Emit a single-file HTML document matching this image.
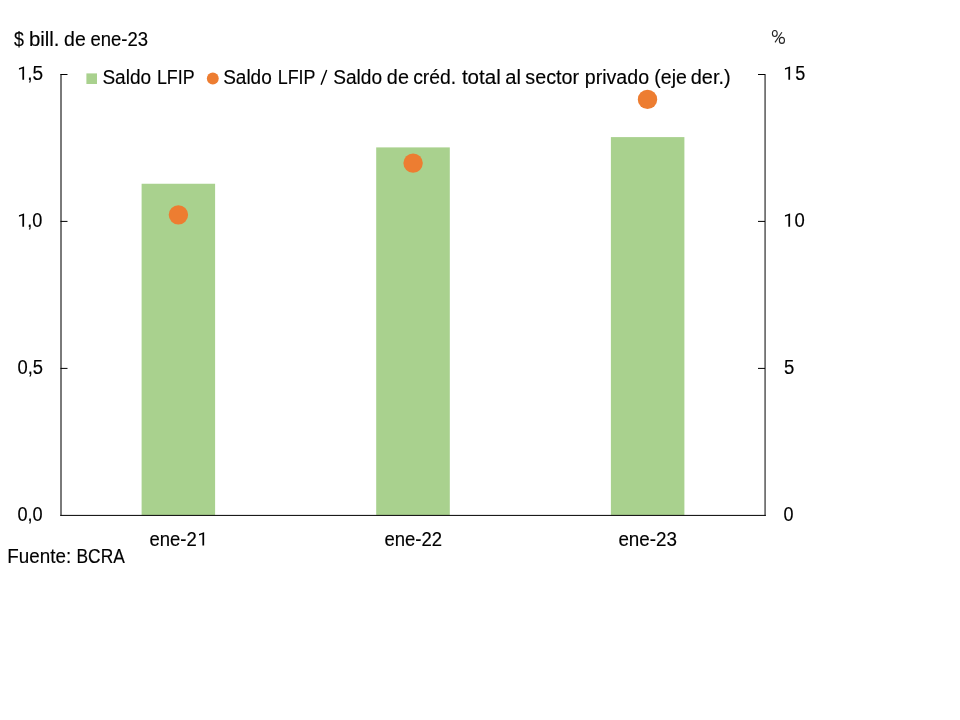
<!DOCTYPE html>
<html><head><meta charset="utf-8">
<style>
html,body{margin:0;padding:0;background:#fff;}
body{width:960px;height:720px;overflow:hidden;}
svg{display:block;opacity:0.999;will-change:transform;}
text{font-family:"Liberation Sans",sans-serif;fill:#000;stroke:#000;stroke-width:0.15px;}
</style></head><body>
<svg width="960" height="720" viewBox="0 0 960 720">
<rect width="960" height="720" fill="#fff"/>
<rect x="141.6" y="183.75" width="73.5" height="331.5" fill="#a9d18e"/>
<rect x="376.2" y="147.4" width="73.6" height="367.8" fill="#a9d18e"/>
<rect x="610.9" y="137.1" width="73.5" height="378.1" fill="#a9d18e"/>
<line x1="61" y1="74" x2="61" y2="515.5" stroke="#7a7a7a" stroke-width="2"/>
<line x1="765.1" y1="74" x2="765.1" y2="515.5" stroke="#727272" stroke-width="1.8"/>
<line x1="60.2" y1="515.4" x2="765.9" y2="515.4" stroke="#000" stroke-width="1"/>
<g stroke="#000" stroke-width="1">
<line x1="60.5" y1="74.5" x2="67.5" y2="74.5"/>
<line x1="60.5" y1="221.4" x2="67.5" y2="221.4"/>
<line x1="60.5" y1="368.4" x2="67.5" y2="368.4"/>
<line x1="758" y1="74.5" x2="765" y2="74.5"/>
<line x1="758" y1="221.4" x2="765" y2="221.4"/>
<line x1="758" y1="368.4" x2="765" y2="368.4"/>
</g>
<circle cx="178.4" cy="214.85" r="9.7" fill="#ed7d31"/>
<circle cx="413.1" cy="163.1" r="9.7" fill="#ed7d31"/>
<circle cx="647.5" cy="99.4" r="9.7" fill="#ed7d31"/>
<rect x="86.4" y="73.4" width="10.6" height="10.6" fill="#a9d18e"/>
<circle cx="212.8" cy="78.45" r="5.95" fill="#ed7d31"/>
<g fill="none" stroke="#222" stroke-width="1.1">
<ellipse cx="774.8" cy="33.45" rx="2.4" ry="3.0"/>
<ellipse cx="781.9" cy="40.4" rx="2.55" ry="3.0"/>
<line x1="775" y1="42.4" x2="781.9" y2="32.2"/>
</g>
<text id="lg1a" x="102.41" y="83.6" textLength="48.67" lengthAdjust="spacingAndGlyphs" font-size="19.4">Saldo</text>
<text id="lg1b" x="156.91" y="83.6" textLength="37.64" lengthAdjust="spacingAndGlyphs" font-size="19.4">LFIP</text>
<text id="lg2a" x="223.16" y="83.6" textLength="48.61" lengthAdjust="spacingAndGlyphs" font-size="19.4">Saldo</text>
<text id="lg2b" x="277.70" y="83.6" textLength="37.75" lengthAdjust="spacingAndGlyphs" font-size="19.4">LFIP</text>
<text id="lg2d" x="333.20" y="83.6" textLength="48.82" lengthAdjust="spacingAndGlyphs" font-size="19.4">Saldo</text>
<text id="lg2e" x="386.88" y="83.6" textLength="22.02" lengthAdjust="spacingAndGlyphs" font-size="19.4">de</text>
<text id="lg2f" x="413.15" y="83.6" textLength="43.00" lengthAdjust="spacingAndGlyphs" font-size="19.4">créd.</text>
<text id="lg2g" x="461.90" y="83.6" textLength="38.86" lengthAdjust="spacingAndGlyphs" font-size="19.4">total</text>
<text id="lg2h" x="505.37" y="83.6" textLength="15.65" lengthAdjust="spacingAndGlyphs" font-size="19.4">al</text>
<text id="lg2i" x="525.39" y="83.6" textLength="53.81" lengthAdjust="spacingAndGlyphs" font-size="19.4">sector</text>
<text id="lg2j" x="584.77" y="83.6" textLength="64.32" lengthAdjust="spacingAndGlyphs" font-size="19.4">privado</text>
<text id="lg2k" x="654.28" y="83.6" textLength="32.61" lengthAdjust="spacingAndGlyphs" font-size="19.4">(eje</text>
<text id="lg2l" x="690.78" y="83.6" textLength="39.96" lengthAdjust="spacingAndGlyphs" font-size="19.4">der.)</text>
<text id="t1a" x="14.05" y="45.5" textLength="9.92" lengthAdjust="spacingAndGlyphs" font-size="19.4">$</text>
<text id="t1b" x="28.98" y="45.5" textLength="30.56" lengthAdjust="spacingAndGlyphs" font-size="19.4">bill.</text>
<text id="t1c" x="64.14" y="45.5" textLength="21.65" lengthAdjust="spacingAndGlyphs" font-size="19.4">de</text>
<text id="t1d" x="90.42" y="45.5" textLength="57.58" lengthAdjust="spacingAndGlyphs" font-size="19.4">ene-23</text>
<text id="yl0" x="27.26" y="79.8" textLength="15.91" lengthAdjust="spacingAndGlyphs" font-size="19.4">,5</text>
<text id="yl1" x="27.33" y="226.75" textLength="15.12" lengthAdjust="spacingAndGlyphs" font-size="19.4">,0</text>
<text id="yl2" x="17.43" y="373.7" textLength="25.57" lengthAdjust="spacingAndGlyphs" font-size="19.4">0,5</text>
<text id="yl3" x="17.43" y="520.6" textLength="25.22" lengthAdjust="spacingAndGlyphs" font-size="19.4">0,0</text>
<text id="yr0" x="795.19" y="79.8" textLength="10.05" lengthAdjust="spacingAndGlyphs" font-size="19.4">5</text>
<text id="yr1" x="794.42" y="226.75" textLength="10.29" lengthAdjust="spacingAndGlyphs" font-size="19.4">0</text>
<text id="yr2" x="783.92" y="373.7" textLength="10.33" lengthAdjust="spacingAndGlyphs" font-size="19.4">5</text>
<text id="yr3" x="783.44" y="520.6" textLength="10.01" lengthAdjust="spacingAndGlyphs" font-size="19.4">0</text>
<text id="xl0" x="149.42" y="545.6" textLength="47.33" lengthAdjust="spacingAndGlyphs" font-size="19.4">ene-2</text>
<text id="xl1" x="384.42" y="545.6" textLength="57.73" lengthAdjust="spacingAndGlyphs" font-size="19.4">ene-22</text>
<text id="xl2" x="618.41" y="545.6" textLength="58.60" lengthAdjust="spacingAndGlyphs" font-size="19.4">ene-23</text>
<text id="srca" x="7.33" y="563.3" textLength="63.87" lengthAdjust="spacingAndGlyphs" font-size="19.4">Fuente:</text>
<text id="srcb" x="76.54" y="563.3" textLength="48.22" lengthAdjust="spacingAndGlyphs" font-size="19.4">BCRA</text>
<line x1="321.1" y1="84.7" x2="326.7" y2="70.05" stroke="#000" stroke-width="1.45"/>
<path d="M24.10 79.80H22.35V68.56L18.95 69.81V68.28L23.84 66.46H24.10Z" fill="#000"/>
<path d="M24.10 226.75H22.35V215.51L18.95 216.76V215.23L23.84 213.41H24.10Z" fill="#000"/>
<path d="M790.10 79.80H788.35V68.56L784.95 69.81V68.28L789.84 66.46H790.10Z" fill="#000"/>
<path d="M790.10 226.75H788.35V215.51L784.95 216.76V215.23L789.84 213.41H790.10Z" fill="#000"/>
<path d="M204.15 545.60H202.40V534.36L199.00 535.61V534.08L203.89 532.26H204.15Z" fill="#000"/>
</svg>
</body></html>
